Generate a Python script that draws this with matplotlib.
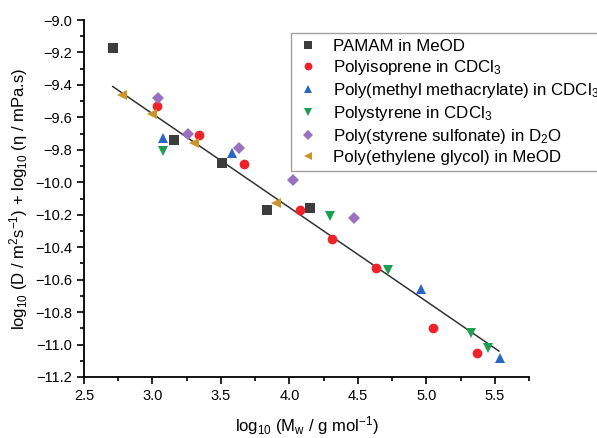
import matplotlib.pyplot as plt
from matplotlib.ticker import MultipleLocator

plt.rcParams['font.family'] = ['Liberation Sans', 'DejaVu Sans']
plt.rcParams['mathtext.fontset'] = 'custom'
plt.rcParams['mathtext.rm'] = 'Liberation Sans'
plt.rcParams['mathtext.it'] = 'Liberation Sans:italic'

# PAMAM in MeOD
pamam_x = [2.71, 3.16, 3.51, 3.84, 4.15]
pamam_y = [-9.17, -9.74, -9.88, -10.17, -10.16]
# Polyisoprene in CDCl3
pi_x = [3.03, 3.34, 3.67, 4.08, 4.31, 4.63, 5.05, 5.37]
pi_y = [-9.53, -9.71, -9.885, -10.17, -10.35, -10.53, -10.90, -11.05]
# PMMA in CDCl3
pmma_x = [3.08, 3.58, 4.96, 5.54]
pmma_y = [-9.73, -9.82, -10.66, -11.08]
# Polystyrene in CDCl3
ps_x = [3.08, 4.30, 4.72, 5.33, 5.45]
ps_y = [-9.81, -10.21, -10.54, -10.93, -11.02]
# PSS in D2O
pss_x = [3.04, 3.26, 3.63, 4.03, 4.47]
pss_y = [-9.48, -9.70, -9.79, -9.985, -10.22]
# PEG in MeOD
peg_x = [2.78, 3.00, 3.305, 3.90]
peg_y = [-9.46, -9.58, -9.755, -10.13]

# fitted line (end points)
fit_x = [2.71, 5.53]
fit_y = [-9.41, -11.04]

series = [
    (pamam_x, pamam_y, 's', '#3c3c3c', 'PAMAM in MeOD'),
    (pi_x, pi_y, 'o', '#ee2228', r'Polyisoprene in CDCl$_3$'),
    (pmma_x, pmma_y, '^', '#2b66c0', r'Poly(methyl methacrylate) in CDCl$_3$'),
    (ps_x, ps_y, 'v', '#1e9e52', r'Polystyrene in CDCl$_3$'),
    (pss_x, pss_y, 'D', '#9a70c0', r'Poly(styrene sulfonate) in D$_2$O'),
    (peg_x, peg_y, '<', '#c9952a', 'Poly(ethylene glycol) in MeOD'),
]

fig = plt.figure(figsize=(5.97, 4.38), dpi=100)
ax = fig.add_axes([0.1407, 0.1393, 0.7454, 0.815])

ax.plot(fit_x, fit_y, color='#333333', lw=1.1, zorder=1)
for x, y, m, c, lab in series:
    ms = 6 if m == 'D' else 7
    ax.plot(x, y, linestyle='none', marker=m, color=c, ms=ms,
            markeredgewidth=0, label=lab, zorder=2)

ax.set_xlim(2.5, 5.75)
ax.set_ylim(-11.2, -9.0)
ax.xaxis.set_major_locator(MultipleLocator(0.5))
ax.xaxis.set_minor_locator(MultipleLocator(0.25))
ax.yaxis.set_major_locator(MultipleLocator(0.2))
ax.yaxis.set_minor_locator(MultipleLocator(0.1))
ax.set_xticks([2.5, 3.0, 3.5, 4.0, 4.5, 5.0, 5.5])
ax.tick_params(which='major', direction='out', length=5, width=1.2, labelsize=10.5)
ax.tick_params(which='minor', direction='out', length=3, width=1.2)
for s in ['top', 'right']:
    ax.spines[s].set_visible(False)
for s in ['left', 'bottom']:
    ax.spines[s].set_linewidth(1.3)

ax.set_xlabel(r'log$_{10}$ (M$_{\rm w}$ / g mol$^{-1}$)', fontsize=12, labelpad=8)
ax.set_ylabel(r'log$_{10}$ (D / m$^2$s$^{-1}$) + log$_{10}$ (η / mPa.s)', fontsize=12, labelpad=4)

leg = fig.legend(loc='upper left', bbox_to_anchor=(291 / 597, 1 - 33 / 438),
                 fontsize=12.2, frameon=True, fancybox=False, edgecolor='#888888',
                 labelspacing=0.24, handletextpad=0.85, borderpad=0.35,
                 borderaxespad=0, handlelength=1.3, markerscale=0.8)
leg.get_frame().set_linewidth(1.0)

fig.savefig('out.png', dpi=100)
